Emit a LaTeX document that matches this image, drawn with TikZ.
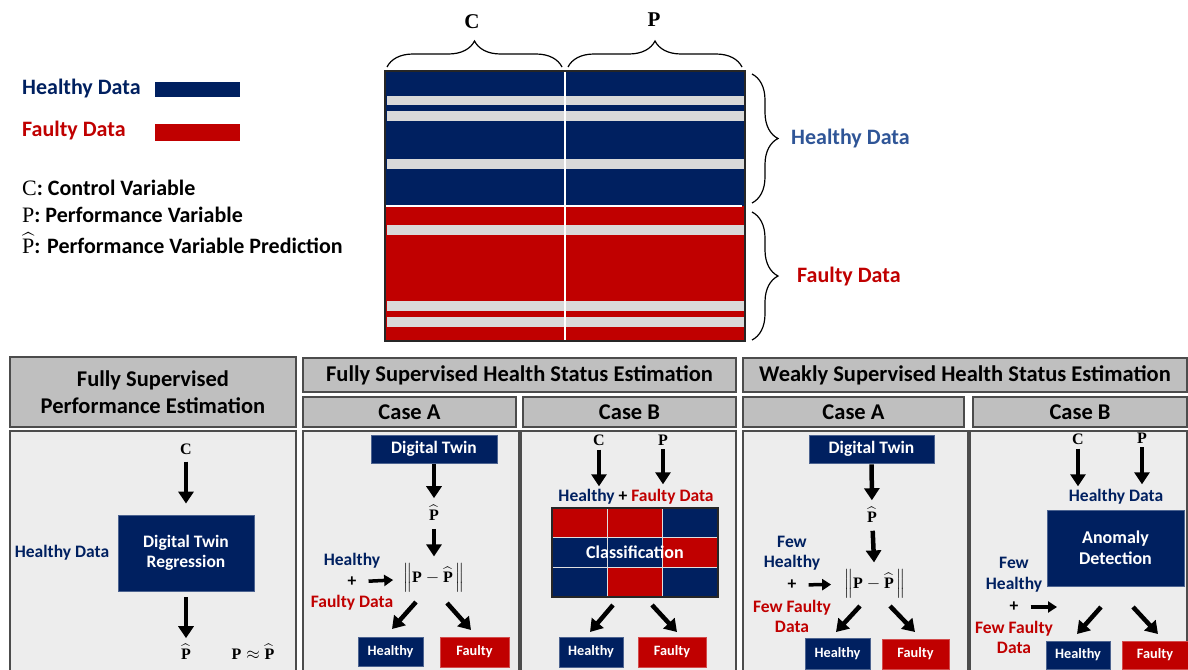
\documentclass[tikz,border=0pt]{standalone}
\usepackage{amsmath,amssymb}
\usepackage[no-math]{fontspec}
\setmainfont{Carlito}
\newfontfamily\varserif{Liberation Serif}
\newcommand{\vC}{\text{\varserif\bfseries C}}
\newcommand{\vP}{\text{\varserif\bfseries P}}
\newcommand{\vPh}{\widehat{\vP}}
\usepackage{tikz}
\usetikzlibrary{arrows.meta,calc,positioning,decorations.pathreplacing}
\usepackage{xcolor}
\definecolor{dtnavy}{HTML}{002060}
\definecolor{dtred}{HTML}{C00000}
\definecolor{dtsky}{HTML}{2F5597}
\definecolor{dtgray}{HTML}{BFBFBF}
\definecolor{dtpanel}{HTML}{EDEDED}
\definecolor{dtstripe}{HTML}{D9D9D9}

\begin{document}
\begin{tikzpicture}[
  x=1pt,y=-1pt,
  font=\bfseries,
  line/.style={-{Triangle[length=12pt,width=15pt]},line width=4.5pt,draw=black},
  sline/.style={-{Triangle[length=9pt,width=11pt]},line width=3.5pt,draw=black},
  hdr/.style={draw=black!70,fill=dtgray,line width=1.3pt,inner sep=0pt,
              align=center,font=\fontsize{22.5}{27}\selectfont\bfseries},
  panel/.style={draw=black!70,fill=dtpanel,line width=1.3pt,inner sep=0pt},
  navybox/.style={draw=dtnavy!70!white,fill=dtnavy,text=white,line width=0.8pt,
                  inner sep=0pt,align=center},
  redbox/.style={draw=dtred!70!white,fill=dtred,text=white,line width=0.8pt,
                 inner sep=0pt,align=center},
  smallbox/.style={font=\fontsize{14.3}{16}\selectfont\bfseries},
  var/.style={inner sep=1pt,font=\fontsize{16}{18}\selectfont},
  lbl/.style={inner sep=1pt,align=center,font=\fontsize{17.5}{20.5}\selectfont\bfseries},
  legend/.style={anchor=west,inner sep=0pt,font=\fontsize{22}{24}\selectfont\bfseries},
  brc/.style={decorate,decoration={brace,amplitude=26pt},line width=1.2pt}
]
\useasboundingbox (0,0) rectangle (1188,669);
\clip (0,0) rectangle (1188,669);
\fill[white] (0,0) rectangle (1188,669);

\node[legend,text=dtnavy] (lgHealthy) at (22,89) {Healthy Data};
\node[fill=dtnavy,minimum width=85pt,minimum height=15pt,inner sep=0pt] (barHealthy) at (197.5,89.5) {};
\node[legend,text=dtred] (lgFaulty) at (22,131) {Faulty Data};
\node[fill=dtred,minimum width=85pt,minimum height=17pt,inner sep=0pt] (barFaulty) at (197.5,132.5) {};
\node[legend] (lgC) at (22,188) {{\mdseries\varserif C}: Control Variable};
\node[legend] (lgP) at (22,215) {{\mdseries\varserif P}: Performance Variable};
\node[legend] (lgPh) at (22,243) {$\widehat{\text{\mdseries\varserif P}}$: Performance Variable Prediction};

\fill[dtnavy] (385,71) rectangle (745,206);
\fill[dtred] (385,206) rectangle (745,341);
\foreach \ya/\yb in {96/105,111/121,159/169,225/235,301/311,317/327}
  \fill[dtstripe] (387,\ya) rectangle (744,\yb);
\draw[white,line width=2pt] (565,71) -- (565,341);
\draw[white,line width=2pt] (385,206) -- (742,206);
\draw[black!85,line width=1.5pt] (385,71) rectangle (745,341);
\draw[brc] (387,67) -- (562,67);
\draw[brc] (568,67) -- (742,67);
\draw[brc] (752,74) -- (752,203);
\draw[brc] (752,212) -- (752,340);
\node[var,font=\fontsize{21}{24}\selectfont] (colC) at (472,22) {$\vC$};
\node[var,font=\fontsize{21}{24}\selectfont] (colP) at (654,20) {$\vP$};
\node[legend,text=dtsky] (rowH) at (791,139) {Healthy Data};
\node[legend,text=dtred] (rowF) at (797,277) {Faulty Data};

\node[hdr,minimum width=286pt,minimum height=70pt] (hdrPerf) at (153,392)
  {Fully Supervised\\Performance Estimation};
\node[panel,minimum width=286pt,minimum height=249pt] (pnlPerf) at (153,555.5) {};
\node[hdr,minimum width=433pt,minimum height=34pt] (hdrFully) at (519.5,375)
  {Fully Supervised Health Status Estimation};
\node[hdr,minimum width=213pt,minimum height=30pt] (hdrFA) at (409.5,412) {Case A};
\node[hdr,minimum width=213pt,minimum height=30pt] (hdrFB) at (629.5,412) {Case B};
\node[panel,minimum width=216pt,minimum height=249pt] (pnlFA) at (411,555.5) {};
\node[panel,minimum width=215pt,minimum height=249pt] (pnlFB) at (628.5,555.5) {};
\node[hdr,minimum width=444pt,minimum height=34pt] (hdrWeak) at (965,375)
  {Weakly Supervised Health Status Estimation};
\node[hdr,minimum width=221pt,minimum height=30pt] (hdrWA) at (853.5,412) {Case A};
\node[hdr,minimum width=214pt,minimum height=30pt] (hdrWB) at (1080,412) {Case B};
\node[panel,minimum width=225pt,minimum height=249pt] (pnlWA) at (855.5,555.5) {};
\node[panel,minimum width=217pt,minimum height=249pt] (pnlWB) at (1078.5,555.5) {};

\node[var] (cPerf) at (186,449) {$\vC$};
\node[navybox,lbl,minimum width=136pt,minimum height=76pt] (dtReg) at (186,553)
  {Digital Twin\\Regression};
\node[lbl,text=dtnavy] (hdPerf) at (62,553) {Healthy Data};
\node[var] (phPerf) at (186,652) {$\vPh$};
\node[var] (apxPerf) at (253,652) {$\vP\approx\vPh$};
\draw[line,shorten <=6pt,shorten >=11pt] (cPerf) -- (dtReg);
\draw[line,shorten <=6pt,shorten >=5pt] (dtReg) -- (phPerf);

\node[navybox,lbl,minimum width=126pt,minimum height=28pt] (dtFA) at (434,449) {Digital Twin};
\node[var] (phFA) at (434,513) {$\vPh$};
\node[var] (nrmFA) at (434,578) {$\left\|\vP-\vPh\,\right\|$};
\node[lbl,text=dtnavy] (hlFA) at (352,561) {Healthy};
\node[lbl] (plFA) at (352,582) {+};
\node[lbl,text=dtred] (flFA) at (352,603) {Faulty Data};
\node[navybox,smallbox,minimum width=65pt,minimum height=29pt] (hbFA) at (390.5,651.5) {Healthy};
\node[redbox,smallbox,minimum width=69pt,minimum height=30pt] (fbFA) at (474.5,652) {Faulty};
\coordinate (sHFA) at (416,602);
\coordinate (eHFA) at (392,629);
\coordinate (sFFA) at (447,603);
\coordinate (eFFA) at (471,630);
\draw[line,shorten <=1pt,shorten >=6pt] (dtFA) -- (phFA);
\draw[line,shorten <=7pt,shorten >=6pt] (phFA) -- (nrmFA);
\draw[sline,shorten <=11pt,shorten >=9pt] (plFA) -- (nrmFA);
\draw[line] (sHFA) -- (eHFA);
\draw[line] (sFFA) -- (eFFA);

\node[var] (cFB) at (599,440) {$\vC$};
\node[var] (pFB) at (663,440) {$\vP$};
\node[lbl] (hfFB) at (636,497) {{\color{dtnavy}Healthy} + {\color{dtred}Faulty Data}};
\foreach \cl/\i/\j in {dtred/0/0,dtred/1/0,dtnavy/2/0,dtnavy/0/1,dtnavy/1/1,dtred/2/1,
                       dtnavy/0/2,dtred/1/2,dtnavy/2/2}
  \draw[fill=\cl,draw=white!75!gray,line width=1pt]
    ({552+\i*55.33},{508+\j*29.67}) rectangle ++(55.33,29.67);
\node[draw=black!85,line width=1.5pt,minimum width=166pt,minimum height=89pt,inner sep=0pt,
      text=white,font=\fontsize{18}{20}\selectfont\bfseries] (clsFB) at (635,552.5) {Classification};
\node[navybox,smallbox,minimum width=64pt,minimum height=30pt] (hbFB) at (591,652) {Healthy};
\node[redbox,smallbox,minimum width=68pt,minimum height=30pt] (fbFB) at (672,652) {Faulty};
\coordinate (sHFB) at (613,605);
\coordinate (eHFB) at (590,632);
\coordinate (sFFB) at (652,605);
\coordinate (eFFB) at (677,632);
\draw[line,shorten <=3pt,shorten >=2pt] (cFB) -- (cFB |- hfFB.north);
\draw[line,shorten <=3pt,shorten >=4pt] (pFB) -- (pFB |- hfFB.north);
\draw[line] (sHFB) -- (eHFB);
\draw[line] (sFFB) -- (eFFB);

\node[navybox,lbl,minimum width=125pt,minimum height=28pt] (dtWA) at (871.5,449) {Digital Twin};
\node[var] (phWA) at (872,515) {$\vPh$};
\node[var] (nrmWA) at (875,584) {$\left\|\vP-\vPh\,\right\|$};
\node[lbl,text=dtnavy] (fhWA) at (792,553) {Few\\Healthy};
\node[lbl] (plWA) at (792,585) {+};
\node[lbl,text=dtred] (ffWA) at (792,616.5) {Few Faulty\\Data};
\node[navybox,smallbox,minimum width=65pt,minimum height=31pt] (hbWA) at (837.5,653.5) {Healthy};
\node[redbox,smallbox,minimum width=67pt,minimum height=30pt] (fbWA) at (915.5,654) {Faulty};
\coordinate (sHWA) at (860,606);
\coordinate (eHWA) at (836,632);
\coordinate (sFWA) at (890,606);
\coordinate (eFWA) at (915,632);
\draw[line,shorten <=1pt,shorten >=6pt] (dtWA) -- (phWA);
\draw[line,shorten <=7pt,shorten >=6pt] (phWA) -- (nrmWA);
\draw[sline,shorten <=11pt,shorten >=12pt] (plWA) -- (nrmWA);
\draw[line] (sHWA) -- (eHWA);
\draw[line] (sFWA) -- (eFWA);

\node[var] (cWB) at (1078,439) {$\vC$};
\node[var] (pWB) at (1142,438) {$\vP$};
\node[lbl,text=dtnavy] (hdWB) at (1116,497) {Healthy Data};
\node[navybox,font=\fontsize{18}{21}\selectfont\bfseries,minimum width=137pt,minimum height=76pt]
  (adWB) at (1115.5,548) {Anomaly\\Detection};
\node[lbl,text=dtnavy] (fhWB) at (1014,574.5) {Few\\Healthy};
\node[lbl] (plWB) at (1014,607) {+};
\node[lbl,text=dtred] (ffWB) at (1014,637.5) {Few Faulty\\Data};
\node[navybox,smallbox,minimum width=64pt,minimum height=28pt] (hbWB) at (1078,655) {Healthy};
\node[redbox,smallbox,minimum width=66pt,minimum height=28pt] (fbWB) at (1155,655) {Faulty};
\coordinate (ePlWB) at (1057,607);
\coordinate (sHWB) at (1101,607);
\coordinate (eHWB) at (1077,634);
\coordinate (sFWB) at (1133,607);
\coordinate (eFWB) at (1158,634);
\draw[line,shorten <=3pt,shorten >=2pt] (cWB) -- (cWB |- hdWB.north);
\draw[line,shorten <=3pt,shorten >=4pt] (pWB) -- (pWB |- hdWB.north);
\draw[sline,shorten <=11pt] (plWB) -- (ePlWB);
\draw[line] (sHWB) -- (eHWB);
\draw[line] (sFWB) -- (eFWB);
\end{tikzpicture}
\end{document}
